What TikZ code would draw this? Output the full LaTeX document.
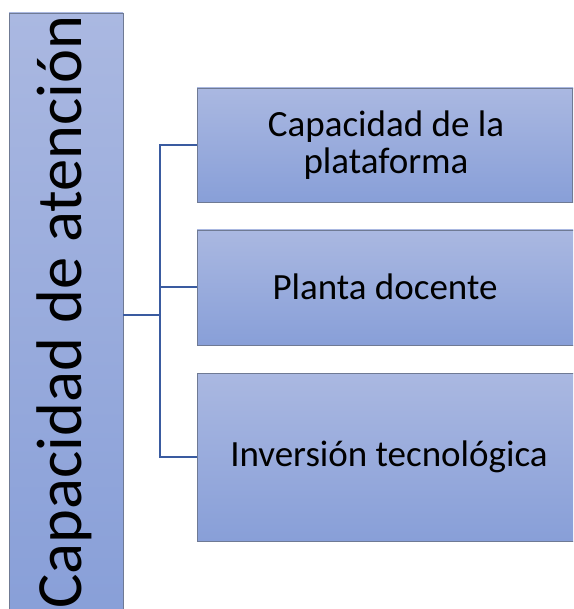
\documentclass[tikz,border=0pt]{standalone}
\usepackage{fontspec}
\setmainfont{Carlito}
\definecolor{boxtop}{HTML}{AAB8E1}
\definecolor{boxbot}{HTML}{889FD8}
\definecolor{boxline}{HTML}{6F7A94}
\definecolor{conn}{HTML}{3A5BA0}
\begin{document}
\begin{tikzpicture}[x=1pt,y=-1pt,
  box/.style={draw=boxline,line width=0.8pt,top color=boxtop,bottom color=boxbot,inner sep=0pt},
  lbl/.style={font=\fontsize{37}{37}\selectfont,align=center,text=black,inner sep=0pt},
  conline/.style={draw=conn,line width=2pt}]
\useasboundingbox (0,0) rectangle (573,609);
\begin{scope}
\clip (0,0) rectangle (573,609);
\path[box] (9,13) rectangle (123,620);
\coordinate (L) at (123,315);
\node[rotate=90,font=\fontsize{64.5}{70}\selectfont,inner sep=0pt] (lt) at (64,312) {Capacidad de atención};
\path[box] (197,88) rectangle (580,202);
\path[box] (197,230) rectangle (580,345);
\path[box] (197,373) rectangle (580,541);
\end{scope}
\draw[boxline,line width=0.8pt] (572,88) -- (572,202);
\node[lbl] (b1) at (386,145) {Capacidad de la\\plataforma};
\node[lbl] (b2) at (385,287) {Planta docente};
\node[lbl] (b3) at (389,457) {Inversión tecnológica};
\coordinate (B1) at (197,145);
\coordinate (B2) at (197,287);
\coordinate (B3) at (197,457);
\coordinate (J) at (160,315);
\draw[conline] (L) -- (J);
\draw[conline] (B1) -| (J) |- (B3);
\draw[conline] (J |- B2) -- (B2);
\end{tikzpicture}
\end{document}
